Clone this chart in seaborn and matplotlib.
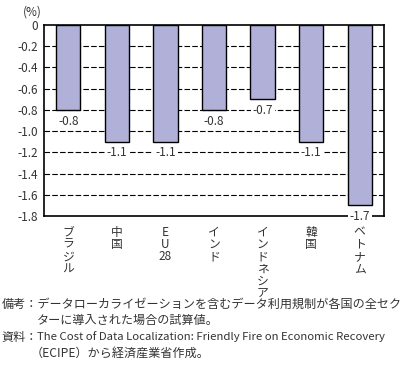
import matplotlib
matplotlib.use("Agg")
import matplotlib.pyplot as plt
import seaborn as sns
import pandas as pd
import numpy as np

sns.set_style("white")
plt.rcParams['font.family'] = ['Noto Sans CJK JP', 'DejaVu Sans']

categories = ["ブラジル", "中国", "EU28", "インド", "インドネシア", "韓国", "ベトナム"]
tick_labels = ["ブ\nラ\nジ\nル", "中\n国", "E\nU\n28", "イ\nン\nド", "イ\nン\nド\nネ\nシ\nア", "韓\n国", "ベ\nト\nナ\nム"]
values = [-0.8, -1.1, -1.1, -0.8, -0.7, -1.1, -1.7]
value_labels = ["-0.8", "-1.1", "-1.1", "-0.8", "-0.7", "-1.1", "-1.7"]
y_ticks = [0, -0.2, -0.4, -0.6, -0.8, -1.0, -1.2, -1.4, -1.6, -1.8]
y_tick_labels = ["0", "-0.2", "-0.4", "-0.6", "-0.8", "-1.0", "-1.2", "-1.4", "-1.6", "-1.8"]

df = pd.DataFrame({"cat": categories, "val": values})
txt = "#333333"

fig = plt.figure(figsize=(4.08, 3.67), dpi=100)
ax = fig.add_axes([44/408, 1-216/367, 340/408, 191/367])

ax.set_ylim(-1.8, 0)
ax.set_xlim(-0.5, 6.5)
ax.set_yticks(y_ticks)
ax.set_yticklabels(y_tick_labels, fontsize=8.5, color=txt)
for y in y_ticks[1:-1]:
    ax.axhline(y, color="black", lw=0.8, ls=(0, (5, 2)), zorder=0)

sns.barplot(data=df, x="cat", y="val", color="#b0b0d8", edgecolor="black",
            linewidth=1.0, width=0.5, saturation=1, ax=ax, zorder=2)

ax.set_xticks(range(len(categories)))
ax.set_xticklabels(tick_labels, fontsize=8.5, color=txt, linespacing=0.92, va="top")
ax.tick_params(axis="x", length=0, pad=7)
ax.tick_params(axis="y", length=0, pad=4)
ax.set_xticks(np.arange(0.5, 6, 1), minor=True)
ax.tick_params(axis="x", which="minor", direction="in", length=4, width=1, color="black")
ax.set_xlabel("")
ax.set_ylabel("")

for i, (v, lab) in enumerate(zip(values, value_labels)):
    ax.annotate(lab, (i, v), xytext=(0, -8), textcoords="offset points",
                ha="center", va="center", fontsize=8.5, color=txt, zorder=5,
                bbox=dict(boxstyle="square,pad=0.15", fc="white", ec="none"))

for s in ax.spines.values():
    s.set_color("black")
    s.set_linewidth(1.2)

fig.text(23/408, 1-12/367, "(%)", fontsize=8.5, color=txt, ha="left", va="center")

notes = [
    (2, 304, "備考：データローカライゼーションを含むデータ利用規制が各国の全セク", 8.7),
    (37, 320, "ターに導入された場合の試算値。", 8.7),
    (2, 337, "資料：", 8.7),
    (37, 337, "The Cost of Data Localization: Friendly Fire on Economic Recovery", 8.2),
    (31, 353, "（ECIPE）から経済産業省作成。", 8.7),
]
for x, y, t, fs in notes:
    fig.text(x/408, 1-y/367, t, fontsize=fs, color=txt, ha="left", va="center")

fig.savefig("out.png", dpi=100)
